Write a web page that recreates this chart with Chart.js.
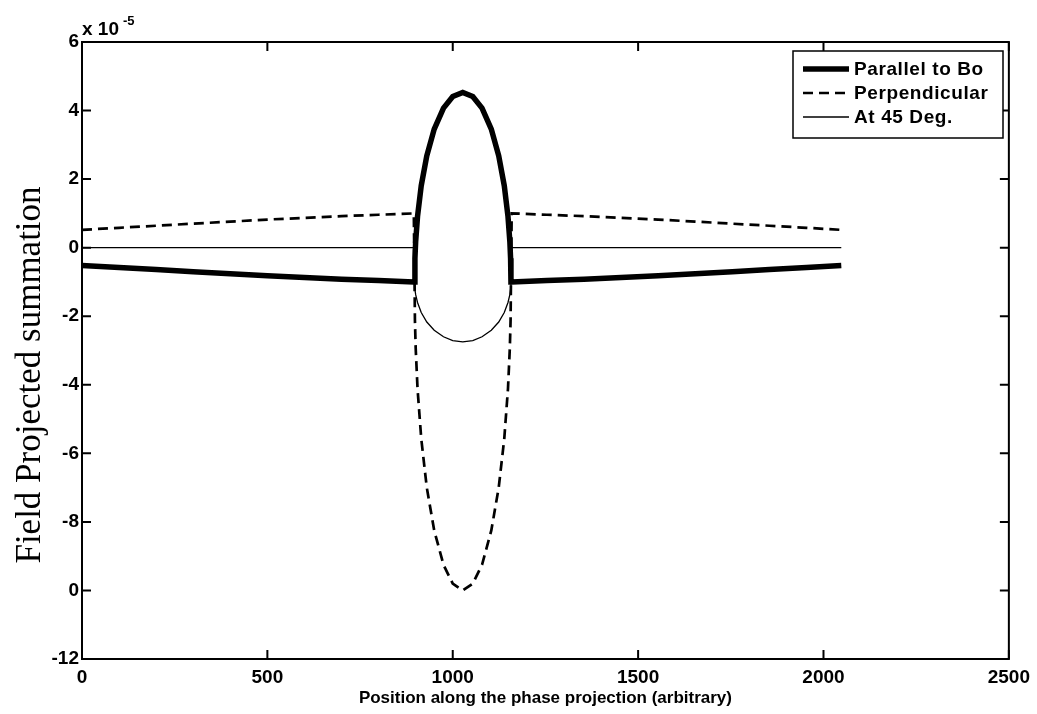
<!DOCTYPE html>
<html>
<head>
<meta charset="utf-8">
<script src="https://cdn.jsdelivr.net/npm/chart.js@4/dist/chart.umd.min.js"></script>
<style>
html,body{margin:0;padding:0;background:#fff;}
#wrap{width:1037px;height:714px;position:relative;}
</style>
</head>
<body>
<div id="wrap"><canvas id="c" width="1037" height="714"></canvas></div>
<script>
// Data (units of 1e-5)
const positions = [0,100,200,300,400,500,600,700,800,895,897,898,900,905,915,930,950,975,1000,1027,1054,1079,1104,1124,1139,1149,1154,1156,1157,1159,1254,1354,1454,1554,1654,1754,1854,1954,2048];
const parallelToBo = [-0.52,-0.58,-0.64,-0.70,-0.76,-0.82,-0.87,-0.92,-0.96,-1.0,-1.0,-0.31,0.18,0.91,1.81,2.68,3.46,4.07,4.41,4.53,4.41,4.07,3.46,2.68,1.81,0.91,0.18,-0.31,-1.0,-1.0,-0.96,-0.92,-0.87,-0.82,-0.76,-0.70,-0.64,-0.58,-0.52];
const perpendicular = [0.52,0.58,0.64,0.70,0.76,0.82,0.87,0.92,0.96,1.0,-1.0,-2.12,-2.92,-4.11,-5.57,-7.0,-8.25,-9.25,-9.80,-10.0,-9.80,-9.25,-8.25,-7.0,-5.57,-4.11,-2.92,-2.12,-1.0,1.0,0.96,0.92,0.87,0.82,0.76,0.70,0.64,0.58,0.52];
const at45Deg = [0,0,0,0,0,0,0,0,0,0,-1.0,-1.22,-1.37,-1.60,-1.89,-2.17,-2.41,-2.60,-2.71,-2.75,-2.71,-2.60,-2.41,-2.17,-1.89,-1.60,-1.37,-1.22,-1.0,0,0,0,0,0,0,0,0,0,0];
const seriesNames = ["Parallel to Bo","Perpendicular","At 45 Deg."];
const xTicks = [0,500,1000,1500,2000,2500];
const xTickLabels = ["0","500","1000","1500","2000","2500"];
const yTicks = [6,4,2,0,-2,-4,-6,-8,-10,-12];
const yTickLabels = ["6","4","2","0","-2","-4","-6","-8","0","-12"];

const pts = arr => positions.map((x,i)=>({x:x,y:arr[i]}));
const FAM = "'Liberation Sans', Arial, sans-serif";
const tickFont = {family:FAM, size:19, weight:"bold"};

const framePlugin = {
  id:'frame',
  afterDatasetsDraw(chart){
    const ctx = chart.ctx, a = chart.chartArea;
    const xs = chart.scales.x, ys = chart.scales.y;
    ctx.save();
    ctx.strokeStyle = '#000';
    ctx.lineWidth = 2;
    ctx.strokeRect(a.left, a.top, a.right-a.left, a.bottom-a.top);
    const L = 9;
    ctx.beginPath();
    xTicks.forEach(v=>{
      const px = xs.getPixelForValue(v);
      ctx.moveTo(px, a.bottom); ctx.lineTo(px, a.bottom-L);
      ctx.moveTo(px, a.top); ctx.lineTo(px, a.top+L);
    });
    yTicks.forEach(v=>{
      const py = ys.getPixelForValue(v);
      ctx.moveTo(a.left, py); ctx.lineTo(a.left+L, py);
      ctx.moveTo(a.right, py); ctx.lineTo(a.right-L, py);
    });
    ctx.stroke();

    // legend
    const lx = 793, ly = 51, lw = 210, lh = 87;
    ctx.fillStyle = '#fff';
    ctx.fillRect(lx, ly, lw, lh);
    ctx.lineWidth = 1.5;
    ctx.strokeRect(lx, ly, lw, lh);
    const rows = [69, 93, 117];
    chart.data.datasets.forEach((ds,i)=>{
      ctx.beginPath();
      ctx.lineWidth = ds.borderWidth;
      ctx.setLineDash(ds.borderDash || []);
      ctx.moveTo(803, rows[i]); ctx.lineTo(849, rows[i]);
      ctx.stroke();
      ctx.setLineDash([]);
      ctx.fillStyle = '#000';
      ctx.font = "bold 19px " + FAM;
      ctx.letterSpacing = '0.6px';
      ctx.textBaseline = 'middle';
      ctx.textAlign = 'left';
      ctx.fillText(ds.label, 854, rows[i]+1);
      ctx.letterSpacing = '0px';
    });

    // exponent label
    ctx.fillStyle = '#000';
    ctx.font = "bold 19px " + FAM;
    ctx.textAlign = 'left';
    ctx.textBaseline = 'alphabetic';
    ctx.fillText('x 10', 82, 35);
    ctx.font = "bold 13px " + FAM;
    ctx.fillText('-5', 123, 25);

    // axis titles
    ctx.font = "bold 17px " + FAM;
    ctx.textAlign = 'center';
    ctx.textBaseline = 'middle';
    ctx.fillText('Position along the phase projection (arbitrary)', (a.left+a.right)/2, 698);
    ctx.save();
    ctx.translate(31, 375);
    ctx.rotate(-Math.PI/2);
    ctx.font = "35px 'Liberation Serif', 'Times New Roman', serif";
    ctx.fillText('Field Projected summation', 0, 0);
    ctx.restore();
    ctx.restore();
  }
};

new Chart(document.getElementById('c'), {
  type:'line',
  data:{
    datasets:[
      {label:seriesNames[0], data:pts(parallelToBo), borderColor:'#000', borderWidth:5.5, pointRadius:0, tension:0, fill:false},
      {label:seriesNames[1], data:pts(perpendicular), borderColor:'#000', borderWidth:2.7, borderDash:[10,6], pointRadius:0, tension:0, fill:false},
      {label:seriesNames[2], data:pts(at45Deg), borderColor:'#000', borderWidth:1.3, pointRadius:0, tension:0, fill:false}
    ]
  },
  plugins:[framePlugin],
  options:{
    responsive:false,
    animation:false,
    devicePixelRatio:1,
    layout:{padding:{left:0,top:42,right:27,bottom:0}},
    plugins:{legend:{display:false},tooltip:{enabled:false}},
    scales:{
      x:{
        type:'linear', min:0, max:2500,
        afterBuildTicks(s){ s.ticks = xTicks.map(v=>({value:v})); },
        afterFit(s){ s.height = 55; },
        grid:{display:false, drawTicks:false},
        border:{display:false},
        ticks:{color:'#000', font:tickFont, padding:7, maxRotation:0, autoSkip:false,
          callback:(v)=>{const i = xTicks.indexOf(v); return i>=0 ? xTickLabels[i] : '';}}
      },
      y:{
        type:'linear', min:-12, max:6,
        afterBuildTicks(s){ s.ticks = yTicks.map(v=>({value:v})); },
        afterFit(s){ s.width = 82; },
        grid:{display:false, drawTicks:false},
        border:{display:false},
        ticks:{color:'#000', font:tickFont, padding:3, autoSkip:false,
          callback:(v)=>{const i = yTicks.indexOf(v); return i>=0 ? yTickLabels[i] : '';}}
      }
    }
  }
});
</script>
</body>
</html>
